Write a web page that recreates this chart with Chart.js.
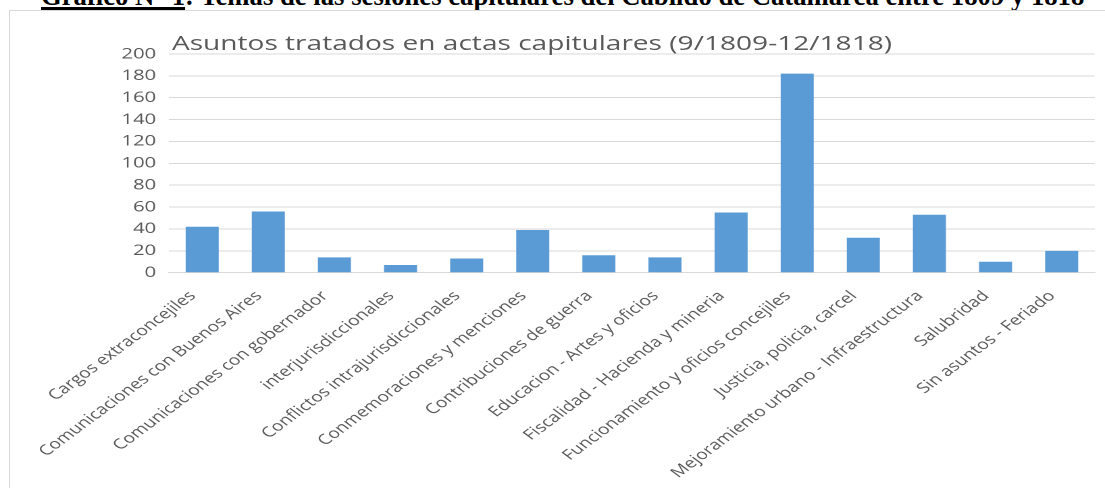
<!DOCTYPE html>
<html>
<head>
<meta charset="utf-8">
<script src="https://cdn.jsdelivr.net/npm/chart.js@4.4.1/dist/chart.umd.min.js"></script>
<style>
  html, body { margin: 0; padding: 0; background: #fff; overflow: hidden; }
  body { width: 1105px; height: 488px; position: relative; }
  #encabezado {
    position: absolute; left: 41px; top: -17px; white-space: nowrap;
    font: bold 26.7px "Times New Roman", "Liberation Serif", serif; line-height: 27px; color: #000;
  }
  #encabezado u { text-decoration-thickness: 3px; text-underline-offset: 2px; }
  #marco {
    position: absolute; left: 9px; top: 10px; right: -5px; bottom: -5px;
    border-left: 1px solid #d9d9d9; border-top: 1px solid #d9d9d9;
  }
  #lienzo {
    position: absolute; left: 0; top: 0; width: 818.5px; height: 488px;
    transform: scaleX(1.35); transform-origin: 0 0;
  }
  #titulo {
    position: absolute; left: 127.4px; top: 32px; white-space: nowrap;
    font: 20.8px "Open Sans", sans-serif; line-height: 21px; color: #595959;
  }
</style>
</head>
<body>
<div id="encabezado"><u>Gráfico N° 1</u>: Temas de las sesiones capitulares del Cabildo de Catamarca entre 1809 y 1818</div>
<div id="marco"></div>
<div id="lienzo">
  <canvas id="grafico"></canvas>
  <div id="titulo">Asuntos tratados en actas capitulares (9/1809-12/1818)</div>
</div>
<script>
// Datos
const categorias = [
  "Cargos extraconcejiles",
  "Comunicaciones con Buenos Aires",
  "Comunicaciones con gobernador",
  "interjurisdiccionales",
  "Conflictos intrajurisdiccionales",
  "Conmemoraciones y menciones",
  "Contribuciones de guerra",
  "Educacion - Artes y oficios",
  "Fiscalidad - Hacienda y mineria",
  "Funcionamiento y oficios concejiles",
  "Justicia, policia, carcel",
  "Mejoramiento urbano - Infraestructura",
  "Salubridad",
  "Sin asuntos - Feriado"
];
const asuntos = [42, 56, 14, 7, 13, 39, 16, 14, 55, 182, 32, 53, 10, 20];
const ejeMin = 0;
const ejeMax = 200;
const ejePaso = 20;

const gris = "#595959";
const lineaGris = "#d9d9d9";

new Chart(document.getElementById("grafico"), {
  type: "bar",
  data: {
    labels: categorias,
    datasets: [{
      data: asuntos,
      backgroundColor: "#5b9bd5",
      borderWidth: 0,
      barPercentage: 0.5,
      categoryPercentage: 1
    }]
  },
  options: {
    responsive: true,
    maintainAspectRatio: false,
    animation: false,
    devicePixelRatio: 2,
    layout: { padding: { top: 54, right: 8.1, bottom: 0, left: 0 } },
    plugins: {
      legend: { display: false },
      tooltip: { enabled: false },
      title: { display: false }
    },
    scales: {
      x: {
        grid: { display: false },
        border: { display: true, color: lineaGris },
        ticks: {
          color: gris,
          font: { family: "Open Sans", size: 14.2 },
          minRotation: 45,
          maxRotation: 45,
          autoSkip: false,
          padding: 7,
          labelOffset: -7
        },
        afterFit: (eje) => { eje.height = 215.3; }
      },
      y: {
        min: ejeMin,
        max: ejeMax,
        border: { display: false },
        grid: { color: lineaGris, drawTicks: false },
        ticks: {
          stepSize: ejePaso,
          color: gris,
          font: { family: "Open Sans", size: 15 },
          padding: 9.6
        },
        afterFit: (eje) => { eje.width = 125.2; }
      }
    }
  }
});
</script>
</body>
</html>
